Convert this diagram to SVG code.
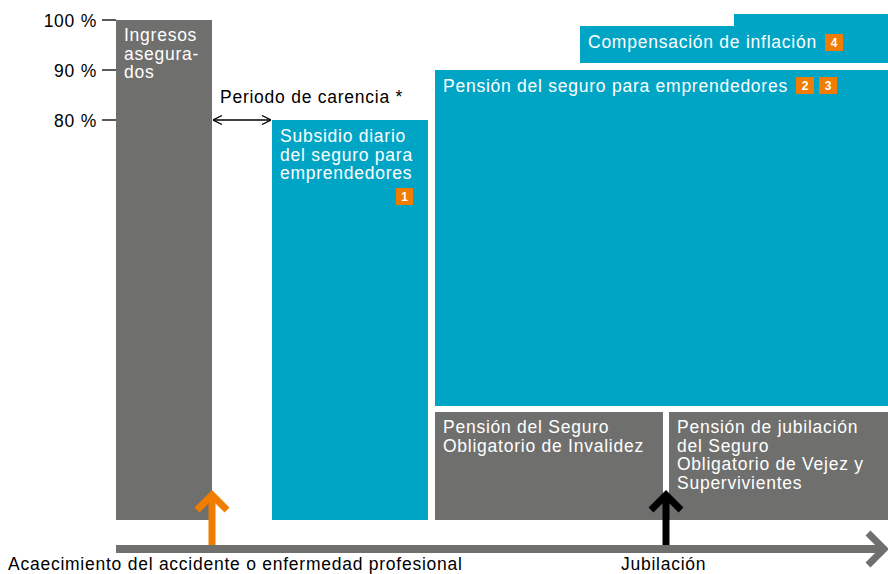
<svg xmlns="http://www.w3.org/2000/svg" width="888" height="574" viewBox="0 0 888 574">
<style>
text{font-family:"Liberation Sans",Arial,sans-serif;font-size:17.5px;letter-spacing:0.75px}
.w{fill:#ffffff}
.k{fill:#000000}
.g{fill:#6f6f6e}
.b{fill:#00a5c6}
.o{fill:#f07d00}
.n{font-size:12px;font-weight:bold;fill:#ffffff;text-anchor:middle;letter-spacing:0}
.t{stroke:#000;stroke-width:1.3}
</style>
<defs>
<marker id="ah" viewBox="0 0 10 10" refX="10" refY="5" markerWidth="10" markerHeight="10" markerUnits="userSpaceOnUse" orient="auto-start-reverse">
<path d="M1,0.5 L10,5 L1,9.5" fill="none" stroke="#000" stroke-width="1.3"/>
</marker>
</defs>
<g id="axis">
<line class="t" x1="102" y1="20" x2="116" y2="20"/>
<line class="t" x1="102" y1="70" x2="116" y2="70"/>
<line class="t" x1="102" y1="120" x2="116" y2="120"/>
<text class="k" x="97" y="27" text-anchor="end" letter-spacing="0">100 %</text>
<text class="k" x="97" y="77" text-anchor="end" letter-spacing="0">90 %</text>
<text class="k" x="97" y="127" text-anchor="end" letter-spacing="0">80 %</text>
</g>
<g id="ingresos">
<rect class="g" x="116" y="20" width="96" height="500"/>
<text class="w" x="124" y="41">Ingresos</text>
<text class="w" x="124" y="59.5">asegura-</text>
<text class="w" x="124" y="78">dos</text>
</g>
<g id="subsidio">
<rect class="b" x="272" y="120" width="156" height="400"/>
<text class="w" x="280" y="142">Subsidio diario</text>
<text class="w" x="280" y="160.5">del seguro para</text>
<text class="w" x="280" y="179">emprendedores</text>
<rect class="o" x="396" y="188" width="17" height="17"/>
<text class="n" x="404.5" y="201">1</text>
</g>
<g id="compensacion">
<path class="b" d="M580,26 H734 V14 H888 V63 H580 Z"/>
<text class="w" x="588" y="48">Compensación de inflación</text>
<rect class="o" x="825" y="34" width="18" height="17"/>
<text class="n" x="834" y="47">4</text>
</g>
<g id="pension-emprendedores">
<rect class="b" x="435" y="70" width="453" height="336"/>
<text class="w" x="443" y="92">Pensión del seguro para emprendedores</text>
<rect class="o" x="796" y="77" width="18" height="17"/>
<text class="n" x="805" y="90">2</text>
<rect class="o" x="819" y="77" width="18" height="17"/>
<text class="n" x="828" y="90">3</text>
</g>
<g id="invalidez">
<rect class="g" x="435" y="412" width="228" height="108"/>
<text class="w" x="443" y="433">Pensión del Seguro</text>
<text class="w" x="443" y="451.5">Obligatorio de Invalidez</text>
</g>
<g id="jubilacion-pension">
<rect class="g" x="669" y="412" width="219" height="108"/>
<text class="w" x="677" y="433">Pensión de jubilación</text>
<text class="w" x="677" y="451.5">del Seguro</text>
<text class="w" x="677" y="470">Obligatorio de Vejez y</text>
<text class="w" x="677" y="488.5">Supervivientes</text>
</g>
<g id="connectors">
<line x1="213" y1="120" x2="271" y2="120" stroke="#000" stroke-width="1.3" marker-start="url(#ah)" marker-end="url(#ah)"/>
<line x1="116" y1="549" x2="884" y2="549" stroke="#6f6f6e" stroke-width="8"/>
<path d="M868,533 L884,549 L868,565" fill="none" stroke="#6f6f6e" stroke-width="7"/>
<line x1="212" y1="545" x2="212" y2="498" stroke="#f07d00" stroke-width="7"/>
<path d="M197,510 L212,495 L227,510" fill="none" stroke="#f07d00" stroke-width="7"/>
<line x1="666" y1="545" x2="666" y2="498" stroke="#000" stroke-width="7"/>
<path d="M651,510 L666,495 L681,510" fill="none" stroke="#000" stroke-width="7"/>
</g>
<g id="labels">
<text class="k" x="220" y="103">Periodo de carencia *</text>
<text class="k" x="8" y="570">Acaecimiento del accidente o enfermedad profesional</text>
<text class="k" x="621" y="570">Jubilación</text>
</g>
</svg>
